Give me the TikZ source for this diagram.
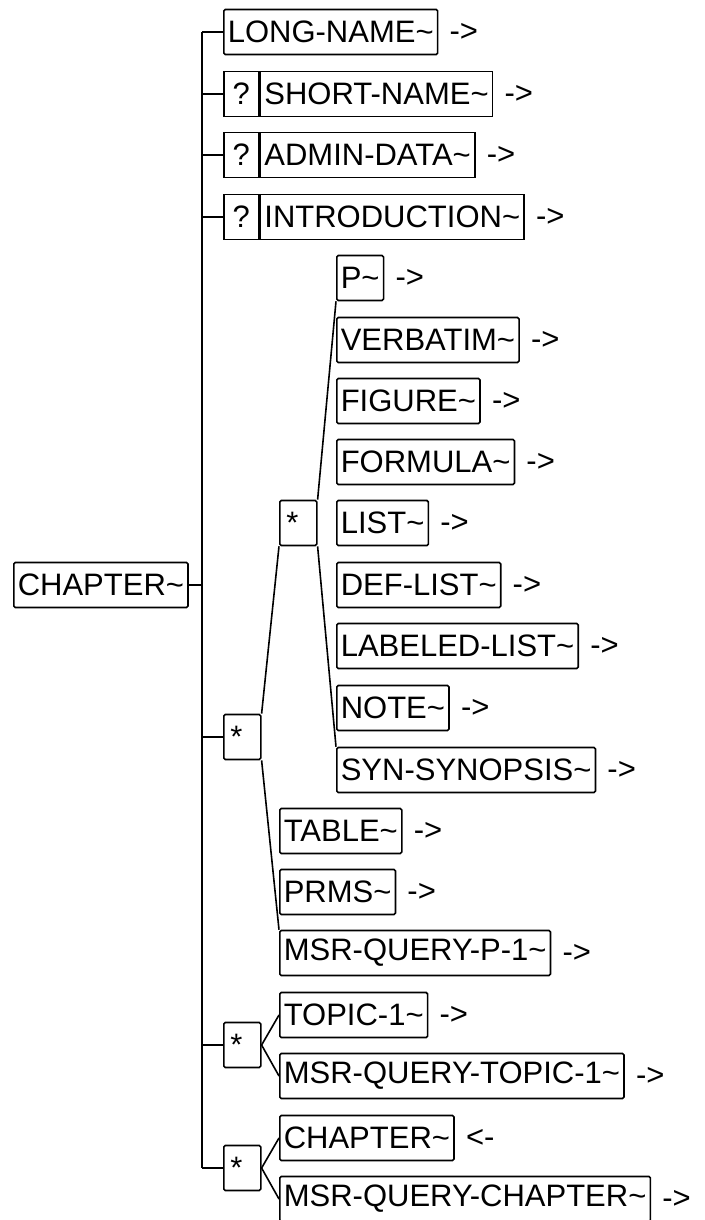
\documentclass[tikz,border=0pt]{standalone}
\usepackage{fontspec}
\setmainfont{Liberation Sans}
\usetikzlibrary{positioning}
\newcommand{\tld}{\textasciitilde}
\tikzset{elem/.style = {draw, line width=1.6pt, rounded corners=1.5pt, anchor=west, minimum height=45pt, inner xsep=4pt, inner ysep=0pt, font=\fontsize{31}{36}\selectfont}}
\tikzset{opt/.style = {elem, sharp corners, minimum width=35pt, inner xsep=0pt}}
\tikzset{optname/.style = {elem, sharp corners}}
\tikzset{rep/.style = {elem, minimum width=37pt, inner xsep=0pt, text width=24pt, align=left}}
\tikzset{more/.style = {inner sep=0pt, font=\fontsize{31}{36}\selectfont}}
\tikzset{wire/.style = {line width=1.6pt}}

\begin{document}
\begin{tikzpicture}[x=1pt,y=-1pt]
      \useasboundingbox (0,0) rectangle (704,1220);
      \node[elem] (root) at (13,585) {CHAPTER\tld};
      \coordinate (trunk) at (202,32);
      \coordinate (trunkend) at (202,1168);
      \draw[wire] (trunk) -- (trunkend);
      \draw[wire] (root.east) -- (root.east -| trunk);
      % head of the chapter
      \node[elem] (lname) at (223,32) {LONG-NAME\tld};
      \node[opt] (q1) at (223,94) {?};
      \node[optname] (sname) at (q1.east) {SHORT-NAME\tld};
      \node[opt] (q2) at (223,155) {?};
      \node[optname] (admin) at (q2.east) {ADMIN-DATA\tld};
      \node[opt] (q3) at (223,217) {?};
      \node[optname] (intro) at (q3.east) {INTRODUCTION\tld};
      \node[more, right=11pt of lname] (lname-r) {->};
      \node[more, right=11pt of sname] (sname-r) {->};
      \node[more, right=11pt of admin] (admin-r) {->};
      \node[more, right=11pt of intro] (intro-r) {->};
      \draw[wire] (lname.west -| trunk) -- (lname.west);
      \draw[wire] (q1.west -| trunk) -- (q1.west);
      \draw[wire] (q2.west -| trunk) -- (q2.west);
      \draw[wire] (q3.west -| trunk) -- (q3.west);
      % body
      \node[rep] (rep1) at (223,737) {*};
      \node[rep] (rep2) at (279,523) {*};
      \node[elem] (p) at (336,278) {P\tld};
      \node[elem] (verb) at (336,340) {VERBATIM\tld};
      \node[elem] (fig) at (336,401) {FIGURE\tld};
      \node[elem] (form) at (336,462) {FORMULA\tld};
      \node[elem] (list) at (336,523) {LIST\tld};
      \node[elem] (dlist) at (336,585) {DEF-LIST\tld};
      \node[elem] (llist) at (336,646) {LABELED-LIST\tld};
      \node[elem] (note) at (336,708) {NOTE\tld};
      \node[elem] (syn) at (336,770) {SYN-SYNOPSIS\tld};
      \node[elem] (table) at (279,831) {TABLE\tld};
      \node[elem] (prms) at (279,892) {PRMS\tld};
      \node[elem] (mqp) at (279,953) {MSR-QUERY-P-1\tld};
      \node[more, right=11pt of p] (p-r) {->};
      \node[more, right=11pt of verb] (verb-r) {->};
      \node[more, right=11pt of fig] (fig-r) {->};
      \node[more, right=11pt of form] (form-r) {->};
      \node[more, right=11pt of list] (list-r) {->};
      \node[more, right=11pt of dlist] (dlist-r) {->};
      \node[more, right=11pt of llist] (llist-r) {->};
      \node[more, right=11pt of note] (note-r) {->};
      \node[more, right=11pt of syn] (syn-r) {->};
      \node[more, right=11pt of table] (table-r) {->};
      \node[more, right=11pt of prms] (prms-r) {->};
      \node[more, right=11pt of mqp] (mqp-r) {->};
      \draw[wire] (rep1.west -| trunk) -- (rep1.west);
      \draw[wire] (rep1.north east) -- (rep2.south west);
      \draw[wire] (rep1.south east) -- (mqp.north west);
      \draw[wire] (rep2.north east) -- (p.south west);
      \draw[wire] (rep2.south east) -- (syn.north west);
      % topics
      \node[rep] (rep3) at (223,1045) {*};
      \node[elem] (topic) at (279,1015) {TOPIC-1\tld};
      \node[elem] (mqt) at (279,1076) {MSR-QUERY-TOPIC-1\tld};
      \node[more, right=11pt of topic] (topic-r) {->};
      \node[more, right=11pt of mqt] (mqt-r) {->};
      \draw[wire] (rep3.west -| trunk) -- (rep3.west);
      \draw[wire] (rep3.east) -- (topic.west);
      \draw[wire] (rep3.east) -- (mqt.west);
      % sub chapters
      \node[rep] (rep4) at (223,1168) {*};
      \node[elem] (chap) at (279,1138) {CHAPTER\tld};
      \node[elem] (mqc) at (279,1199) {MSR-QUERY-CHAPTER\tld};
      \node[more, right=11pt of chap] (chap-r) {<-};
      \node[more, right=11pt of mqc] (mqc-r) {->};
      \draw[wire] (rep4.west -| trunk) -- (rep4.west);
      \draw[wire] (rep4.east) -- (chap.west);
      \draw[wire] (rep4.east) -- (mqc.west);
    \end{tikzpicture}
\end{document}
